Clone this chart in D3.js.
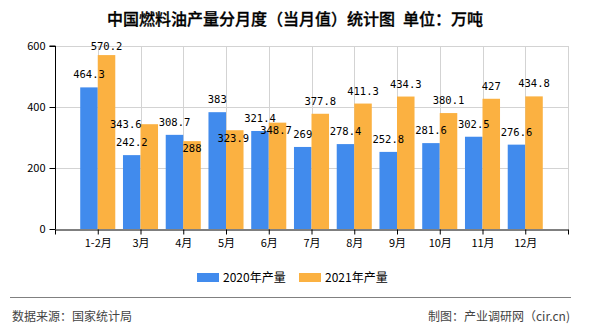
<!DOCTYPE html>
<html>
<head>
<meta charset="utf-8">
<script src="https://cdn.jsdelivr.net/npm/d3@7"></script>
<style>
  html, body { margin: 0; padding: 0; background: #fff; }
  svg { display: block; }
</style>
</head>
<body>
<svg id="chart" width="590" height="330"></svg>
<script>
// ---- data ----
const categories = ["1-2月", "3月", "4月", "5月", "6月", "7月", "8月", "9月", "10月", "11月", "12月"];
const values2020 = [464.3, 242.2, 308.7, 383, 321.4, 269, 278.4, 252.8, 281.6, 302.5, 276.6];
const values2021 = [570.2, 343.6, 288, 323.9, 348.7, 377.8, 411.3, 434.3, 380.1, 427, 434.8];
const seriesNames = ["2020年产量", "2021年产量"];
const yTicks = [0, 200, 400, 600];
const titleText = "中国燃料油产量分月度（当月值）统计图\u2002单位：万吨";
const sourceText = "数据来源：国家统计局";
const creditText = "制图：产业调研网（cir.cn)";

(function () {
// ---- layout ----
const colors = ["#418BED", "#FBB141"];
const svg = d3.select("#chart");
const pLeft = 55, pRight = 568, pTop = 46, pBottom = 229;
const cjk = "'Noto Sans CJK SC', 'Noto Sans', sans-serif";
const mono = "'DejaVu Sans Mono', 'Liberation Mono', monospace";

const x = d3.scaleLinear().domain([0, categories.length + 1]).range([pLeft, pRight]);
const y = d3.scaleLinear().domain([0, 600]).range([pBottom, pTop]);
const step = x(1) - x(0);
const barW = step * 0.41;

// title
svg.append("text")
  .attr("x", 295).attr("y", 25)
  .attr("text-anchor", "middle")
  .attr("font-family", cjk).attr("font-size", 16).attr("font-weight", 500)
  .attr("fill", "#000")
  .attr("stroke", "#000").attr("stroke-width", 0.3)
  .text(titleText);

// grid
const grid = svg.append("g");
grid.selectAll("line.h").data(yTicks.filter(d => d > 0)).join("line")
  .attr("x1", pLeft).attr("x2", pRight)
  .attr("y1", d => y(d) + 0.5).attr("y2", d => y(d) + 0.5)
  .attr("stroke", "#d3d3d3");
grid.selectAll("line.v").data(d3.range(1, categories.length + 2)).join("line")
  .attr("x1", d => Math.round(x(d)) + 0.5).attr("x2", d => Math.round(x(d)) + 0.5)
  .attr("y1", pTop).attr("y2", pBottom)
  .attr("stroke", "#d3d3d3");

// bars
const series = [values2020, values2021];
series.forEach((vals, s) => {
  svg.append("g").selectAll("rect").data(vals).join("rect")
    .attr("x", (d, i) => s === 0 ? x(i + 1) - barW : x(i + 1))
    .attr("width", barW)
    .attr("y", d => y(d))
    .attr("height", d => y(0) - y(d))
    .attr("fill", colors[s]);
});

// axes
const yAxis = d3.axisLeft(y).tickValues(yTicks).tickSize(6).tickPadding(4);
const gy = svg.append("g").attr("transform", `translate(${pLeft + 0.5},0)`).call(yAxis);
gy.selectAll("text").attr("font-family", cjk).attr("font-size", 11).attr("fill", "#000");
gy.selectAll("line, path").attr("stroke", "#000");
gy.select(".domain").attr("d", `M-6,${y(600)}H0V${y(0)}`);

const xAxis = d3.axisBottom(x)
  .tickValues(d3.range(0, categories.length + 2))
  .tickFormat(i => categories[i - 1] || "")
  .tickSize(5).tickPadding(5).tickSizeOuter(0);
const gx = svg.append("g").attr("transform", `translate(0,${pBottom + 0.5})`).call(xAxis);
gx.selectAll("text").attr("font-family", cjk).attr("font-size", 11).attr("fill", "#000");
gx.selectAll("line, path").attr("stroke", "#000");

// value labels (with small collision nudges like the original layout)
const nudge = { "1-0": [0, 4], "1-1": [-23.5, 13], "1-2": [0, 20], "1-3": [-1.5, 21], "1-4": [-1.5, 20] };
series.forEach((vals, s) => {
  svg.append("g").selectAll("text").data(vals).join("text")
    .attr("x", (d, i) => x(i + 1) + (s === 0 ? -barW / 2 : barW / 2) + (nudge[s + "-" + i] || [0, 0])[0])
    .attr("y", (d, i) => y(d) - 9 + (nudge[s + "-" + i] || [0, 0])[1])
    .attr("text-anchor", "middle")
    .attr("font-family", mono).attr("font-size", 10.5).attr("fill", "#000")
    .text(d => d);
});

// legend
const legend = svg.append("g");
const legX = [197, 299];
seriesNames.forEach((name, s) => {
  legend.append("rect").attr("x", legX[s]).attr("y", 273).attr("width", 22).attr("height", 9).attr("fill", colors[s]);
  legend.append("text").attr("x", legX[s] + 26).attr("y", 282)
    .attr("font-family", cjk).attr("font-size", 12).attr("fill", "#000").text(name);
});

// footer
svg.append("line").attr("x1", 10).attr("x2", 571).attr("y1", 297.5).attr("y2", 297.5).attr("stroke", "#808080");
svg.append("text").attr("x", 12).attr("y", 321)
  .attr("font-family", cjk).attr("font-size", 12).attr("fill", "#444").text(sourceText);
svg.append("text").attr("x", 570).attr("y", 321).attr("text-anchor", "end")
  .attr("font-family", cjk).attr("font-size", 12).attr("fill", "#444").text(creditText);
})();
</script>
</body>
</html>
